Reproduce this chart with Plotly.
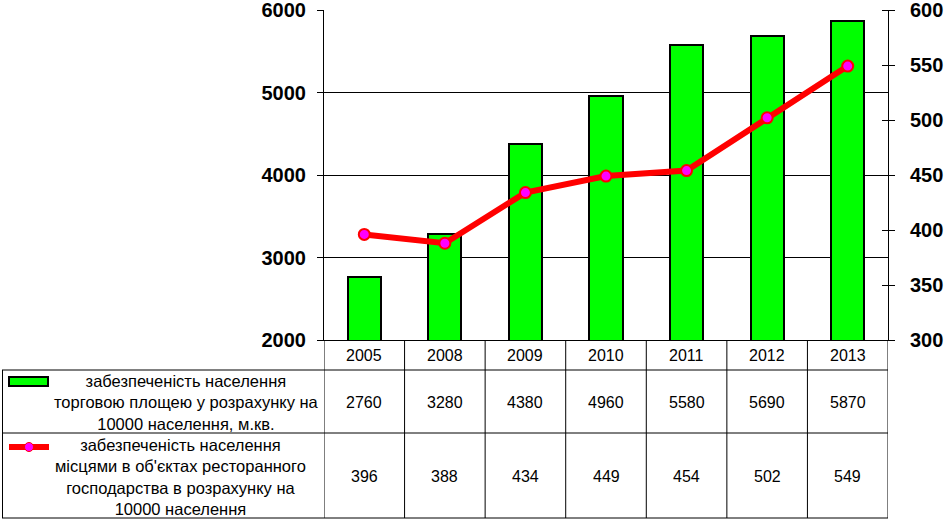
import plotly.graph_objects as go

years = ["2005", "2008", "2009", "2010", "2011", "2012", "2013"]
area = [2760, 3280, 4380, 4960, 5580, 5690, 5870]
seats = [396, 388, 434, 449, 454, 502, 549]
label_area = "забезпеченість населення<br>торговою площею у розрахунку на<br>10000 населення, м.кв."
label_seats = "забезпеченість населення<br>місцями в об'єктах ресторанного<br>господарства в розрахунку на<br>10000 населення"

W, H = 944, 521
def px(x): return x / W
def py(y): return 1 - y / H

X0, X1, YT, YB = 324, 888, 10, 340
xs = list(range(len(years)))

fig = go.Figure()
fig.add_trace(go.Bar(x=xs, y=area, width=0.41, marker=dict(color="#00FF00", line=dict(color="black", width=2)),
                     yaxis="y", showlegend=False))
fig.add_trace(go.Scatter(x=xs, y=seats, yaxis="y2", mode="lines+markers",
                         line=dict(color="#FF0000", width=6),
                         marker=dict(size=11, color="#FF00FF", line=dict(color="#FF0000", width=2)),
                         showlegend=False))

font_tick = dict(family="Arial, Liberation Sans", size=20, color="black", weight="bold")
fig.update_layout(
    width=W, height=H, margin=dict(l=0, r=0, t=0, b=0, autoexpand=False),
    paper_bgcolor="white", plot_bgcolor="white",
    bargap=0,
    xaxis=dict(domain=[px(X0), px(X1)], range=[-0.5, 6.5], showticklabels=False, ticks="", automargin=False,
               showline=True, linecolor="black", linewidth=1, showgrid=False, zeroline=False, fixedrange=True),
    yaxis=dict(domain=[py(YB), py(YT)], range=[2000, 6000], dtick=1000, tick0=2000, automargin=False,
               showline=True, linecolor="black", linewidth=1, ticks="outside", ticklen=6, tickcolor="black",
               showgrid=True, gridcolor="black", gridwidth=1, zeroline=False, ticklabeloverflow="allow",
               tickfont=font_tick, ticklabelstandoff=7),
    yaxis2=dict(overlaying="y", side="right", anchor="x", range=[300, 600], dtick=50, tick0=300, automargin=False,
                showline=True, linecolor="black", linewidth=1, ticks="outside", ticklen=6, tickcolor="black",
                minor=dict(dtick=50, ticks="inside", ticklen=6, tickcolor="black", showgrid=False),
                showgrid=False, zeroline=False, tickfont=font_tick, ticklabelstandoff=11, ticklabeloverflow="allow"),
    font=dict(family="Arial, Liberation Sans", color="black"),
)

shapes = []
line = dict(color="black", width=1)
for i in range(len(years) + 1):
    shapes.append(dict(type="line", xref="x", yref="paper", x0=i - 0.5, x1=i - 0.5,
                       y0=py(YB), y1=py(518), line=line))
for y in (370, 433, 518):
    shapes.append(dict(type="line", xref="paper", yref="paper", x0=px(2), x1=px(X1), y0=py(y), y1=py(y), line=line))
shapes.append(dict(type="line", xref="paper", yref="paper", x0=px(2.5), x1=px(2.5), y0=py(370), y1=py(518), line=line))
shapes.append(dict(type="rect", xref="paper", yref="paper", x0=px(9), x1=px(48), y0=py(386), y1=py(377),
                   fillcolor="#00FF00", line=dict(color="black", width=2)))
shapes.append(dict(type="line", xref="paper", yref="paper", x0=px(9), x1=px(49), y0=py(447), y1=py(447),
                   line=dict(color="#FF0000", width=6)))
shapes.append(dict(type="circle", xref="paper", yref="paper", x0=px(24.5), x1=px(33.5), y0=py(451.5), y1=py(442.5),
                   fillcolor="#FF00FF", line=dict(color="#FF0000", width=1)))
fig.update_layout(shapes=shapes)

tf = dict(family="Arial, Liberation Sans", size=16, color="black")
lf = dict(family="Arial, Liberation Sans", size=16.5, color="black")
ann = []
def A(x, xref, y, text, font):
    return dict(x=x, xref=xref, y=y, yref="paper", text=text, showarrow=False, font=font,
                xanchor="center", yanchor="middle", align="center")
for i, yr in enumerate(years):
    ann.append(A(i, "x", py(355), yr, tf))
    ann.append(A(i, "x", py(402), str(area[i]), tf))
    ann.append(A(i, "x", py(476), str(seats[i]), tf))
ann.append(A(px(186), "paper", py(402), label_area, lf))
ann.append(A(px(180), "paper", py(477), label_seats, lf))
fig.update_layout(annotations=ann)

fig.write_html("out.html", config={"displayModeBar": False},
               post_script="document.body.style.margin='0';")
